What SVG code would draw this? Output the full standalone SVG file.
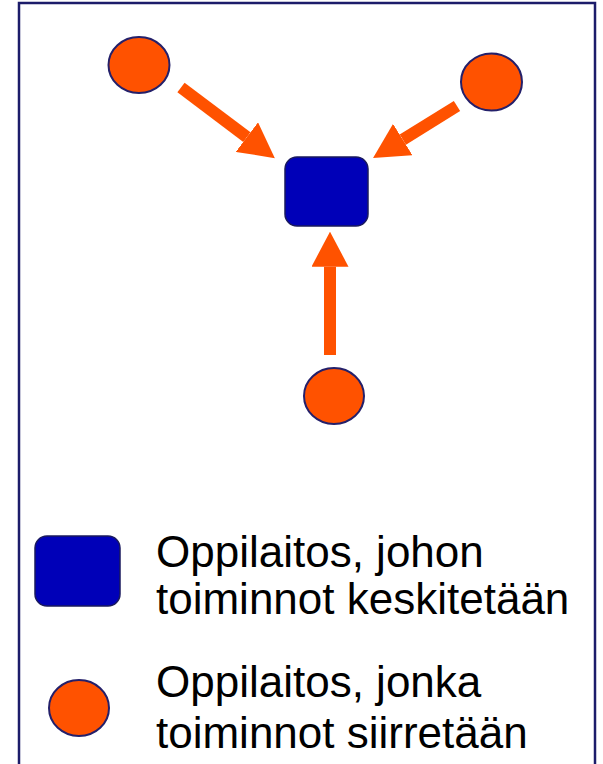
<svg xmlns="http://www.w3.org/2000/svg" width="603" height="764" viewBox="0 0 603 764">
<style>
.site{fill:#FF5200;stroke:#24206A;stroke-width:2}
.hub{fill:#0000B8;stroke:#1A1A5E;stroke-width:1.5}
.arrow{stroke:#FF5200;stroke-width:12;fill:none}
.lbl{font-family:"Liberation Sans",Arial,sans-serif;font-size:44px;fill:#000}
</style>
<defs>
<marker id="head" markerUnits="userSpaceOnUse" markerWidth="35" markerHeight="37" viewBox="0 0 35 37" refX="0" refY="18.5" orient="auto">
<path d="M0,0 L35,18.5 L0,37 z" fill="#FF5200"/>
</marker>
</defs>
<rect x="19" y="3" width="576" height="790" fill="#fff" stroke="#1C1C6A" stroke-width="2.5"/>
<g id="connectors">
<line class="arrow" x1="181" y1="87.5" x2="246.9" y2="137.1" marker-end="url(#head)"/>
<line class="arrow" x1="457" y1="106" x2="402.8" y2="139.6" marker-end="url(#head)"/>
<line class="arrow" x1="330" y1="355" x2="330" y2="266.7" marker-end="url(#head)"/>
</g>
<g id="hub"><rect class="hub" x="285" y="157" width="83" height="69" rx="12"/></g>
<g id="site-tl"><ellipse class="site" cx="139" cy="65" rx="30.5" ry="28"/></g>
<g id="site-tr"><ellipse class="site" cx="491.5" cy="82" rx="30.5" ry="28.5"/></g>
<g id="site-b"><ellipse class="site" cx="334" cy="396" rx="30" ry="28"/></g>
<g id="legend-hub">
<rect class="hub" x="35" y="536" width="85" height="70" rx="12"/>
<text class="lbl" x="156" y="567">Oppilaitos, johon</text>
<text class="lbl" x="156" y="614">toiminnot keskitetään</text>
</g>
<g id="legend-site">
<ellipse class="site" cx="79" cy="708" rx="30" ry="28"/>
<text class="lbl" x="156" y="697">Oppilaitos, jonka</text>
<text class="lbl" x="156" y="748">toiminnot siirretään</text>
</g>
</svg>
